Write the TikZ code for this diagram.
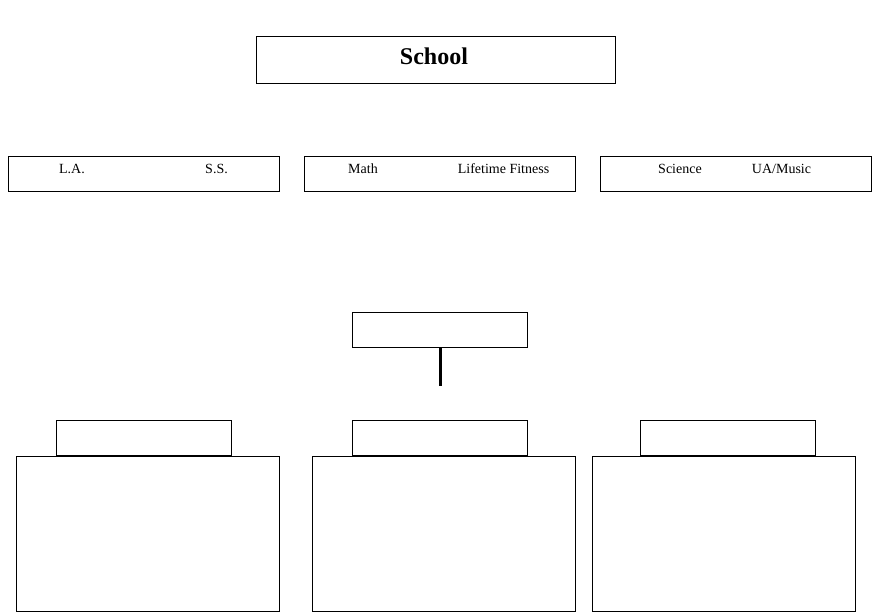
\documentclass[tikz,border=0pt]{standalone}
\usepackage{fontspec}
\setmainfont{Liberation Serif}
\usetikzlibrary{positioning}

\begin{document}
\begin{tikzpicture}[x=1pt,y=1pt]
                    \tikzstyle{every node}+=[inner sep=0pt]
                    \tikzstyle{box}=[draw=black, line width=1pt]
                    \tikzstyle{subject}=[font=\fontsize{14}{16}\selectfont]
                    \useasboundingbox (0,0) rectangle (872,-612);
                    % title
                    \node [box, minimum width=359pt, minimum height=47pt] (school) at (435.5,-60.2) {};
                    \node [font=\fontsize{24}{28}\selectfont\bfseries] (schoolname) at (434,-55.8) {School};
                    % subject rows
                    \node [box, minimum width=271pt, minimum height=35pt] (rowa) at (143.5,-174.2) {};
                    \node [box, minimum width=271pt, minimum height=35pt] (rowb) at (439.5,-174.2) {};
                    \node [box, minimum width=271pt, minimum height=35pt] (rowc) at (735.5,-174.2) {};
                    \node [subject] (la) at (72,-169) {L.A.};
                    \node [subject] (ss) at (216.5,-169) {S.S.};
                    \node [subject] (math) at (363,-169) {Math};
                    \node [subject] (fitness) at (503.5,-169) {Lifetime Fitness};
                    \node [subject] (science) at (680,-169) {Science};
                    \node [subject] (music) at (781.5,-169) {UA/Music};
                    % middle box and stem
                    \node [box, minimum width=175pt, minimum height=35pt] (topic) at (439.5,-330.2) {};
                    \coordinate (stemend) at (440,-385.5);
                    \draw [black, line width=3pt] (topic.south -| stemend) -- (stemend);
                    % bottom headers
                    \node [box, minimum width=175pt, minimum height=35pt] (heada) at (143.5,-438.2) {};
                    \node [box, minimum width=175pt, minimum height=35pt] (headb) at (439.5,-438.2) {};
                    \node [box, minimum width=175pt, minimum height=35pt] (headc) at (727.5,-438.2) {};
                    % bottom boxes
                    \node [box, minimum width=263pt, minimum height=155pt] (bodya) at (147.5,-534) {};
                    \node [box, minimum width=263pt, minimum height=155pt] (bodyb) at (443.5,-534) {};
                    \node [box, minimum width=263pt, minimum height=155pt] (bodyc) at (723.5,-534) {};
\end{tikzpicture}
\end{document}
